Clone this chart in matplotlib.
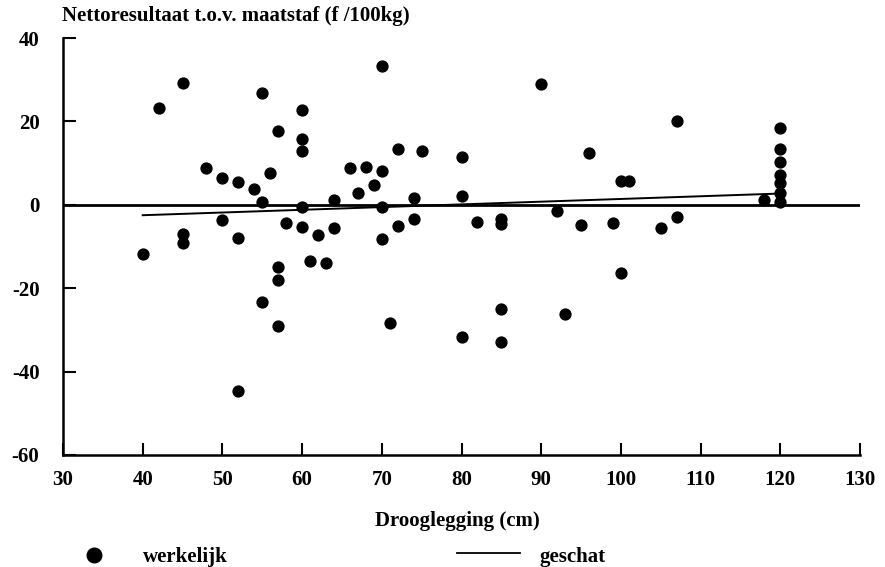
import matplotlib
matplotlib.use("Agg")
import matplotlib.pyplot as plt
from matplotlib.lines import Line2D

# observed points (werkelijk)
drooglegging = [40, 42, 45, 45, 45, 48, 50, 50, 52, 52, 52, 54, 55, 55, 55, 56,
                57, 57, 57, 57, 58, 60, 60, 60, 60, 60, 61, 62, 63, 64, 64, 66,
                67, 68, 69, 70, 70, 70, 70, 71, 72, 72, 74, 74, 75, 80, 80, 80,
                82, 85, 85, 85, 85, 90, 92, 93, 95, 96, 99, 100, 100, 101, 105,
                107, 107, 118, 120, 120, 120, 120, 120, 120, 120]
resultaat = [-11.9, 23.3, 29.3, -6.9, -9.2, 8.8, 6.4, -3.7, 5.4, -7.9, -44.7, 3.8,
             26.7, 0.6, -23.3, 7.7, 17.7, -14.9, -18.1, -29.1, -4.4, 22.8, 15.8,
             12.9, -0.5, -5.3, -13.5, -7.3, -14.0, 1.2, -5.5, 8.9, 2.9, 9.1, 4.7,
             33.2, 8.1, -0.5, -8.3, -28.3, 13.4, -5.1, 1.7, -3.4, 12.9, 11.5, 2.0,
             -31.7, -4.1, -3.3, -4.5, -25.1, -33.0, 28.9, -1.6, -26.1, -4.9, 12.5,
             -4.3, 5.6, -16.4, 5.6, -5.5, 20.0, -2.9, 1.1, 18.5, 13.5, 10.3, 7.2,
             5.2, 2.8, 0.7]

# estimated line (geschat)
geschat_x = [40, 120]
geschat_y = [-2.5, 2.7]

x_ticks = [30, 40, 50, 60, 70, 80, 90, 100, 110, 120, 130]
y_ticks = [-60, -40, -20, 0, 20, 40]

title = "Nettoresultaat t.o.v. maatstaf (f /100kg)"
xlabel = "Drooglegging (cm)"
legend_labels = ["werkelijk", "geschat"]

plt.rcParams['font.family'] = ['Liberation Serif', 'DejaVu Serif']
plt.rcParams['font.weight'] = 'bold'

fig = plt.figure(figsize=(8.85, 5.67), dpi=100)
ax = fig.add_axes([63/885, 1-455/567, (860-63)/885, (455-38)/567])

ax.scatter(drooglegging, resultaat, s=78, color='black', zorder=3, linewidths=0)
ax.axhline(0, color='black', lw=2.0, zorder=2)
ax.plot(geschat_x, geschat_y, color='black', lw=1.4, zorder=2)

ax.set_xlim(30, 130)
ax.set_ylim(-60, 40)
ax.set_xticks(x_ticks)
ax.set_yticks(y_ticks)
ax.set_xticklabels([str(t) for t in x_ticks], fontsize=15, fontweight='bold')
ax.set_yticklabels([str(t) for t in y_ticks], fontsize=15, fontweight='bold')
ax.tick_params(direction='in', length=9, width=1.5)
ax.tick_params(axis='y', pad=17)
ax.tick_params(axis='x', pad=11)

for s in ['top', 'right']:
    ax.spines[s].set_visible(False)
for s in ['left', 'bottom']:
    ax.spines[s].set_linewidth(1.8)

fig.text(62/885, 1-16/567, title, fontsize=15, fontweight='bold',
         ha='left', va='center')
fig.text(457/885, 1-521/567, xlabel, fontsize=15, fontweight='bold',
         ha='center', va='center')

# legend
fig.add_artist(Line2D([94/885], [1-555/567], marker='o', markersize=10.5,
                      color='black', linestyle='none'))
fig.text(143/885, 1-557/567, legend_labels[0], fontsize=15, fontweight='bold',
         ha='left', va='center')
fig.add_artist(Line2D([457/885, 520/885], [1-553/567, 1-553/567],
                      color='black', lw=1.3))
fig.text(540/885, 1-557/567, legend_labels[1], fontsize=15, fontweight='bold',
         ha='left', va='center')

fig.savefig("out.png", dpi=100)
